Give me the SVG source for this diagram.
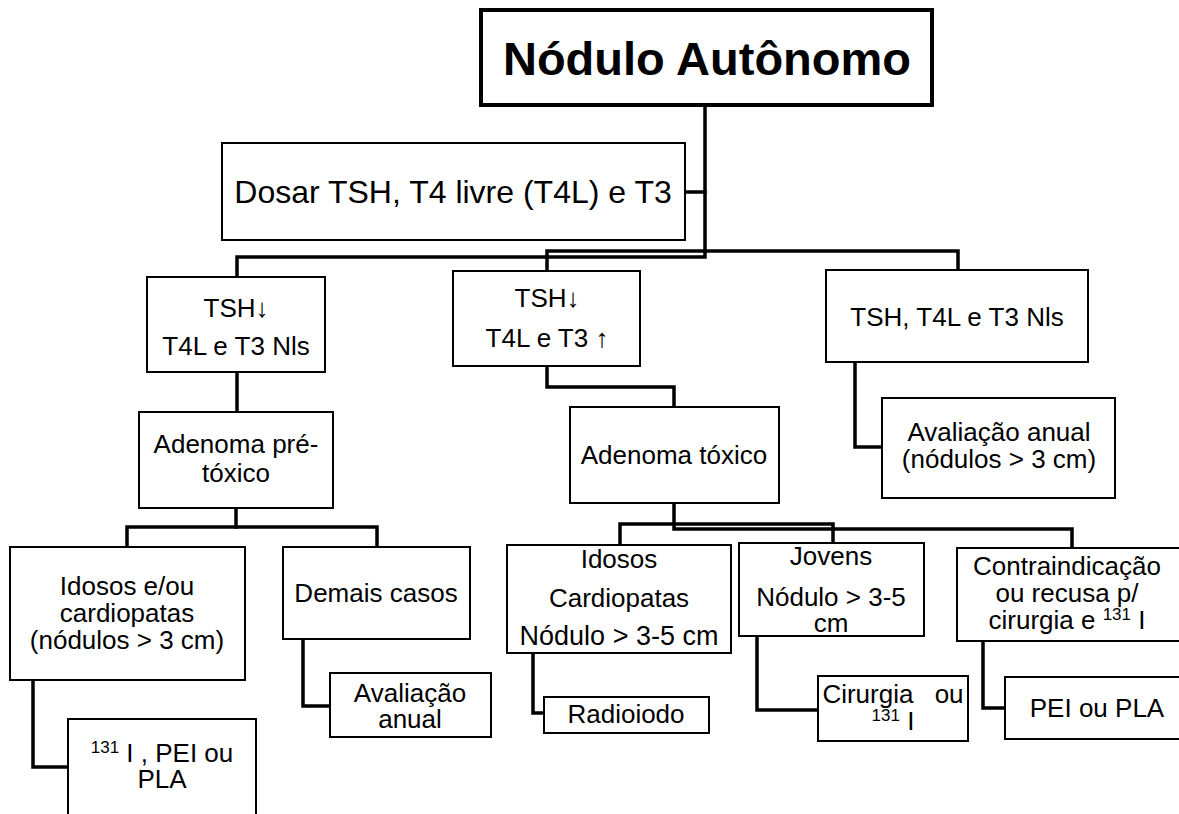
<svg xmlns="http://www.w3.org/2000/svg" width="1179" height="814" viewBox="0 0 1179 814">
<style>
.box{fill:#fff;stroke:#000;stroke-width:2}
.conn{fill:none;stroke:#000;stroke-width:3.5;stroke-linejoin:miter;stroke-linecap:square}
text{font-family:"Liberation Sans",Arial,sans-serif;font-size:26px;text-anchor:middle;fill:#000}
.sup{font-size:17px}
</style>
<rect width="1179" height="814" fill="#fff"/>
<g id="connectors">
<path class="conn" d="M705,105 V257 H237 V277"/>
<path class="conn" d="M686,192 H705"/>
<path class="conn" d="M547,271 V251 H958 V270"/>
<path class="conn" d="M237,372 V412"/>
<path class="conn" d="M236,508 V527"/>
<path class="conn" d="M127,547 V527 H377 V547"/>
<path class="conn" d="M33,680 V767 H68"/>
<path class="conn" d="M303,639 V706 H330"/>
<path class="conn" d="M547,366 V387 H674 V407"/>
<path class="conn" d="M855,362 V447 H882"/>
<path class="conn" d="M674,503 V529 H1072 V548"/>
<path class="conn" d="M620,545 V524 H833 V543"/>
<path class="conn" d="M533,653 V713 H544"/>
<path class="conn" d="M757,636 V710 H818"/>
<path class="conn" d="M983,641 V708 H1005"/>
</g>
<g id="n-title">
<rect x="481" y="10" width="451" height="95" fill="#fff" stroke="#000" stroke-width="4"/>
<text x="707" y="75" style="font-weight:bold;font-size:47px">Nódulo Autônomo</text>
</g>
<g id="n-dosar">
<rect class="box" x="222" y="143" width="463" height="97"/>
<text x="453" y="203" style="font-size:32px">Dosar TSH, T4 livre (T4L) e T3</text>
</g>
<g id="n-tsh1">
<rect class="box" x="147" y="277" width="178" height="95"/>
<text x="236" y="317">TSH↓</text>
<text x="236" y="355">T4L e T3 Nls</text>
</g>
<g id="n-tsh2">
<rect class="box" x="453" y="271" width="187" height="95"/>
<text x="547" y="307">TSH↓</text>
<text x="547" y="347">T4L e T3 ↑</text>
</g>
<g id="n-tsh3">
<rect class="box" x="826" y="270" width="262" height="92"/>
<text x="957" y="326">TSH, T4L e T3 Nls</text>
</g>
<g id="n-aval1">
<rect class="box" x="882" y="398" width="233" height="100"/>
<text x="999" y="441">Avaliação anual</text>
<text x="999" y="468">(nódulos &gt; 3 cm)</text>
</g>
<g id="n-adpre">
<rect class="box" x="139" y="412" width="194" height="96"/>
<text x="236" y="453">Adenoma pré-</text>
<text x="236" y="482">tóxico</text>
</g>
<g id="n-adtox">
<rect class="box" x="570" y="407" width="209" height="96"/>
<text x="674" y="464">Adenoma tóxico</text>
</g>
<g id="n-idosos1">
<rect class="box" x="10" y="547" width="235" height="133"/>
<text x="127" y="595">Idosos e/ou</text>
<text x="127" y="622">cardiopatas</text>
<text x="127" y="649">(nódulos &gt; 3 cm)</text>
</g>
<g id="n-demais">
<rect class="box" x="283" y="547" width="187" height="92"/>
<text x="376" y="602">Demais casos</text>
</g>
<g id="n-aval2">
<rect class="box" x="330" y="673" width="161" height="64"/>
<text x="410" y="702">Avaliação</text>
<text x="410" y="728">anual</text>
</g>
<g id="n-i131">
<rect class="box" x="68" y="719" width="188" height="110"/>
<text x="162" y="762"><tspan class="sup" dy="-9">131</tspan><tspan dy="9"> I , PEI ou</tspan></text>
<text x="162" y="788">PLA</text>
</g>
<g id="n-idosos2">
<rect class="box" x="507" y="545" width="224" height="108"/>
<text x="619" y="568">Idosos</text>
<text x="619" y="607">Cardiopatas</text>
<text x="619" y="645" style="font-size:27px">Nódulo &gt; 3-5 cm</text>
</g>
<g id="n-jovens">
<rect class="box" x="739" y="543" width="185" height="93"/>
<text x="831" y="565">Jovens</text>
<text x="831" y="606">Nódulo &gt; 3-5</text>
<text x="831" y="632">cm</text>
</g>
<g id="n-contra">
<rect class="box" x="957" y="548" width="228" height="93"/>
<text x="1067" y="575">Contraindicação</text>
<text x="1067" y="602">ou recusa p/</text>
<text x="1067" y="629">cirurgia e <tspan class="sup" dy="-9">131</tspan><tspan dy="9"> I</tspan></text>
</g>
<g id="n-radio">
<rect class="box" x="544" y="697" width="165" height="36"/>
<text x="626" y="723">Radioiodo</text>
</g>
<g id="n-cirurgia">
<rect class="box" x="818" y="676" width="150" height="65"/>
<text x="893" y="703" word-spacing="14">Cirurgia ou</text>
<text x="893" y="730"><tspan class="sup" dy="-9">131</tspan><tspan dy="9"> I</tspan></text>
</g>
<g id="n-pei">
<rect class="box" x="1005" y="677" width="190" height="62"/>
<text x="1097" y="717">PEI ou PLA</text>
</g>
</svg>
